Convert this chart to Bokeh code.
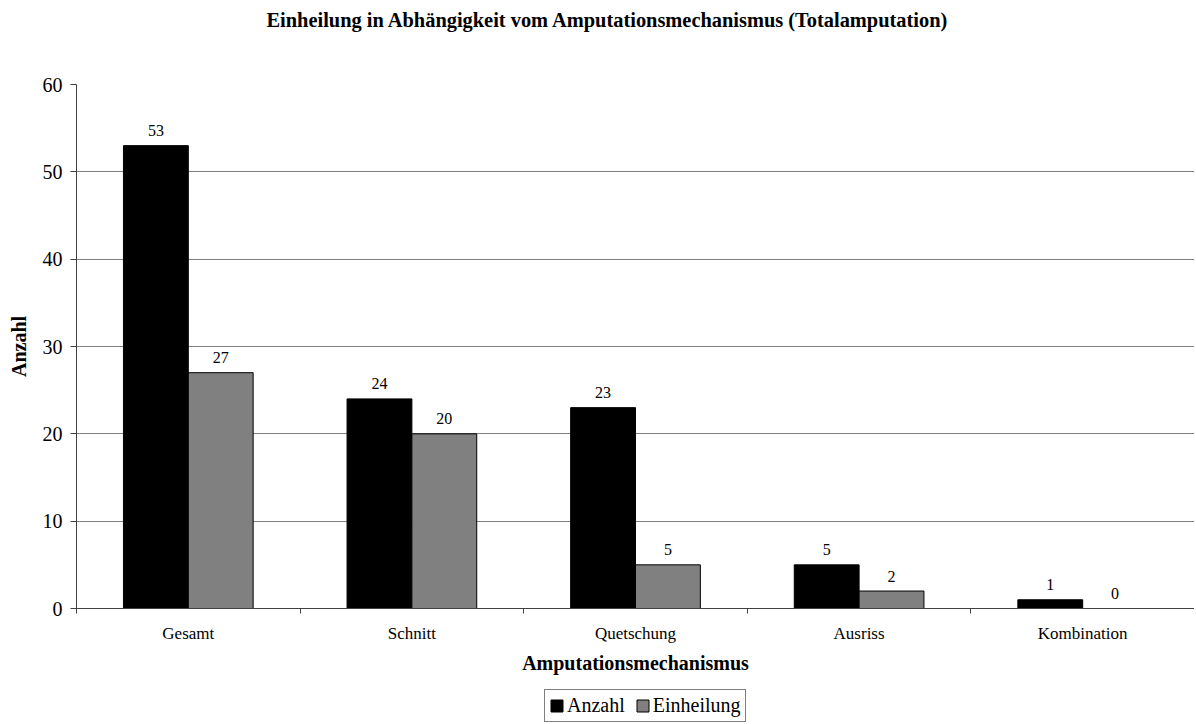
from bokeh.plotting import figure
from bokeh.layouts import column
from bokeh.models import (ColumnDataSource, FixedTicker, Legend, LegendItem, Title,
                          Range1d)
from bokeh.core.properties import value
from bokeh.embed import file_html
from bokeh.resources import INLINE

categories = ["Gesamt", "Schnitt", "Quetschung", "Ausriss", "Kombination"]
anzahl = [53, 24, 23, 5, 1]
einheilung = [27, 20, 5, 2, 0]
y_ticks = [0, 10, 20, 30, 40, 50, 60]
series_names = ["Anzahl", "Einheilung"]

FONT = "Liberation Serif"
n = len(categories)
centers = [i + 0.5 for i in range(n)]
bw = 0.29

p = figure(width=1194, height=684, output_backend="svg", toolbar_location=None,
           x_range=Range1d(0, n), y_range=Range1d(0, 60),
           min_border_left=76, min_border_right=0, min_border_top=84, min_border_bottom=76)
p.outline_line_color = None
p.background_fill_color = "white"
p.border_fill_color = "white"

src_a = ColumnDataSource(dict(x=[c - bw / 2 for c in centers], top=anzahl,
                              lab=[str(v) for v in anzahl]))
src_e = ColumnDataSource(dict(x=[c + bw / 2 for c in centers], top=einheilung,
                              lab=[str(v) for v in einheilung]))

bar_a = dict(fill_color="black", line_color="black", line_width=1)
bar_e = dict(fill_color="#808080", line_color="black", line_width=1)

p.vbar(x="x", top="top", width=bw, source=src_a, **bar_a)
p.vbar(x="x", top="top", width=bw, source=src_e, **bar_e)

for s in (src_a, src_e):
    p.text(x="x", y="top", text="lab", source=s, text_align="center", text_baseline="alphabetic",
           y_offset=-15, text_font=value(FONT), text_font_size="16px", text_color="black")

# x axis
xa = p.xaxis[0]
xa.ticker = FixedTicker(ticks=centers, minor_ticks=list(range(n + 1)))
xa.major_label_overrides = {c: cat for c, cat in zip(centers, categories)}
xa.major_tick_in = 0
xa.major_tick_out = 0
xa.minor_tick_in = 0
xa.minor_tick_out = 5
xa.minor_tick_line_color = "#404040"
xa.axis_line_color = "#404040"
xa.major_label_text_font = FONT
xa.major_label_text_font_size = "17px"
xa.major_label_text_color = "black"
xa.major_label_standoff = 10
xa.axis_label = "Amputationsmechanismus"
xa.axis_label_text_font = FONT
xa.axis_label_text_font_style = "bold"
xa.axis_label_text_font_size = "20px"
xa.axis_label_text_color = "black"
xa.axis_label_standoff = 6

# y axis
ya = p.yaxis[0]
ya.ticker = FixedTicker(ticks=y_ticks)
ya.minor_tick_line_color = None
ya.major_tick_in = 0
ya.major_tick_out = 6
ya.major_tick_line_color = "#404040"
ya.axis_line_color = "#404040"
ya.major_label_text_font = FONT
ya.major_label_text_font_size = "20px"
ya.major_label_text_color = "black"
ya.major_label_standoff = 8
ya.axis_label = "Anzahl"
ya.axis_label_text_font = FONT
ya.axis_label_text_font_style = "bold"
ya.axis_label_text_font_size = "20px"
ya.axis_label_text_color = "black"
ya.axis_label_standoff = 10

p.xgrid.grid_line_color = None
p.ygrid.grid_line_color = "#808080"
p.ygrid.grid_line_width = 1

# spacer between frame and title (above), then the title itself (outermost)
p.add_layout(Title(text=" ", text_font_size="10px", standoff=38), "above")
p.title.text = "Einheilung in Abhängigkeit vom Amputationsmechanismus (Totalamputation)"
p.title.align = "left"
p.title.offset = 190
p.title.vertical_align = "middle"
p.title.standoff = 4
p.title.text_font = FONT
p.title.text_font_size = "20.4px"
p.title.text_font_style = "bold"
p.title.text_color = "black"

# legend strip underneath the chart (same series; its renderers are hidden)
pl = figure(width=1194, height=40, output_backend="svg", toolbar_location=None,
            x_range=Range1d(0, n), y_range=Range1d(0, 60), min_border=0,
            x_axis_location=None, y_axis_location=None)
pl.outline_line_color = None
pl.xgrid.visible = False
pl.ygrid.visible = False
la = pl.vbar(x="x", top="top", width=bw, source=src_a, visible=False, **bar_a)
le = pl.vbar(x="x", top="top", width=bw, source=src_e, visible=False, **bar_e)

legend = Legend(items=[LegendItem(label=series_names[0], renderers=[la]),
                       LegendItem(label=series_names[1], renderers=[le])],
                location=(468, 2), orientation="horizontal", click_policy="none",
                label_text_font=FONT, label_text_font_size="20px", label_text_color="black",
                glyph_width=15, glyph_height=15, label_height=20, label_standoff=3,
                spacing=10, padding=4, margin=0,
                inactive_fill_alpha=0.0,
                border_line_color="black", border_line_width=1,
                background_fill_color="white", background_fill_alpha=1)
pl.add_layout(legend, "center")

layout = column(p, pl, spacing=0)
open("out.html", "w").write(file_html(layout, INLINE))
